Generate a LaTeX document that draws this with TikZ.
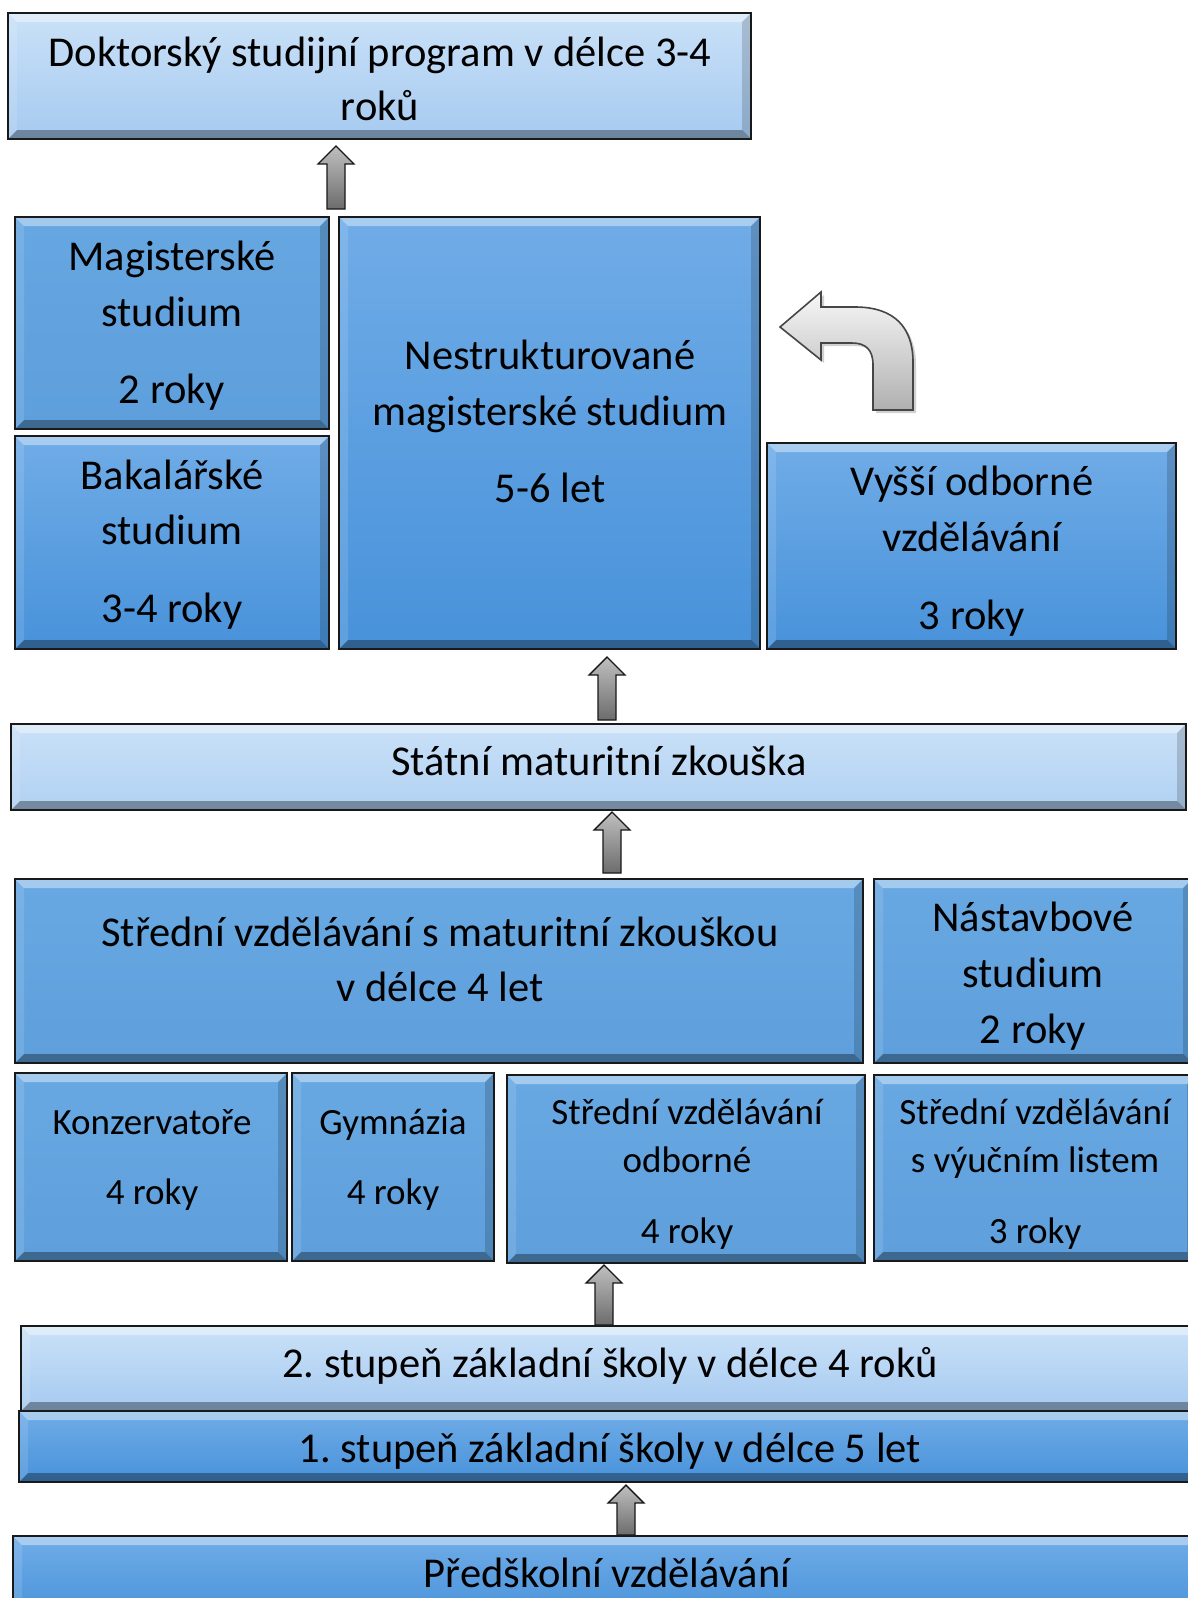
\documentclass[tikz,border=0pt]{standalone}
\usepackage{fontspec}
\setmainfont{Carlito}
\usetikzlibrary{calc}
\frenchspacing

\definecolor{paleTop}{RGB}{202,225,248}
\definecolor{paleBot}{RGB}{166,202,240}
\definecolor{blueTop}{RGB}{112,172,231}
\definecolor{blueBot}{RGB}{72,146,218}
\definecolor{flatTop}{RGB}{104,168,226}
\definecolor{flatBot}{RGB}{94,159,220}
\definecolor{frame}{RGB}{25,25,25}

% bevelled box: name, x1, y1, x2, y2, top colour, bottom colour
\newcommand\bevelbox[7]{%
  \node[rectangle, inner sep=0pt, outer sep=0pt, top color=#6, bottom color=#7,
        minimum width={(#4-#2)*1pt}, minimum height={(#5-#3)*1pt}]
        (#1) at ({(#2+#4)/2},{(#3+#5)/2}) {};
  \fill[white, opacity=0.40] (#1.north west) -- (#1.north east)
     -- ([shift={(-9pt,-9pt)}]#1.north east) -- ([shift={(9pt,-9pt)}]#1.north west) -- cycle;
  \fill[black, opacity=0.34] (#1.south west) -- (#1.south east)
     -- ([shift={(-9pt,9pt)}]#1.south east) -- ([shift={(9pt,9pt)}]#1.south west) -- cycle;
  \fill[white, opacity=0.12] (#1.north west) -- ([shift={(9pt,-9pt)}]#1.north west)
     -- ([shift={(9pt,9pt)}]#1.south west) -- (#1.south west) -- cycle;
  \fill[black, opacity=0.16] (#1.north east) -- ([shift={(-9pt,-9pt)}]#1.north east)
     -- ([shift={(-9pt,9pt)}]#1.south east) -- (#1.south east) -- cycle;
  \draw[frame, line width=2.2pt] (#1.north west) rectangle (#1.south east);
}

% straight block arrow from a base point up to a tip point
\newcommand\uparr[2]{%
  \path[blockarrow] let \p1=(#1), \p2=(#2) in
    (\x1-9pt,\y1) -- (\x1-9pt,\y2-18pt) -- (\x1-18pt,\y2-18pt) -- (\x1,\y2)
    -- (\x1+18pt,\y2-18pt) -- (\x1+9pt,\y2-18pt) -- (\x1+9pt,\y1) -- cycle;}

\begin{document}
\begin{tikzpicture}[x=1pt,y=-1pt,
  lbl/.style={font=\fontsize{42.5}{51}\selectfont, inner sep=0pt, anchor=mid, yshift=-11pt},
  slbl/.style={font=\fontsize{37}{44}\selectfont, inner sep=0pt, anchor=mid, yshift=-10pt},
  blockarrow/.style={draw=frame, line width=1.4pt, top color=gray!50, bottom color=gray!85!black, line join=miter}
]
\clip (0,0) rectangle (1188,1598);
\fill[white] (0,0) rectangle (1188,1598);

% ---- boxes ----
\bevelbox{doc}{8}{13}{751}{139}{paleTop}{paleBot}
\bevelbox{mag}{15}{217}{329}{429}{flatTop!95!blueBot}{flatBot!95!blueBot}
\bevelbox{bak}{15}{436}{329}{649}{blueTop}{blueBot}
\bevelbox{nestr}{339}{217}{760}{649}{blueTop}{blueBot}
\bevelbox{vos}{767}{443}{1176}{649}{blueTop}{blueBot}
\bevelbox{stat}{11}{724}{1186}{810}{paleTop}{paleBot!70!paleTop}
\bevelbox{ssm}{15}{879}{863}{1063}{flatTop}{flatBot}
\bevelbox{nast}{874}{879}{1192}{1063}{flatTop}{flatBot}
\bevelbox{konz}{15}{1073}{287}{1261}{flatTop}{flatBot}
\bevelbox{gym}{292}{1073}{494}{1261}{flatTop}{flatBot}
\bevelbox{odb}{507}{1075}{865}{1263}{flatTop}{flatBot}
\bevelbox{vyuc}{874}{1075}{1196}{1261}{flatTop}{flatBot}
\bevelbox{zs2}{21}{1326}{1199}{1411}{paleTop}{paleBot}
\bevelbox{zs1}{19}{1411}{1201}{1482}{blueTop}{blueBot}
\bevelbox{pred}{13}{1536}{1201}{1620}{blueTop}{blueBot}

% ---- texts ----
\node[lbl] (doc-1) at (380,53) {Doktorský studijní program v délce 3-4};
\node[lbl] (doc-2) at (380,107) {roků};
\node[lbl] (mag-1) at (172,257) {Magisterské};
\node[lbl] (mag-2) at (172,313) {studium};
\node[lbl] (mag-3) at (172,390) {2 roky};
\node[lbl] (bak-1) at (172,476) {Bakalářské};
\node[lbl] (bak-2) at (172,531) {studium};
\node[lbl] (bak-3) at (172,609) {3-4 roky};
\node[lbl] (nestr-1) at (550,356) {Nestrukturované};
\node[lbl] (nestr-2) at (550,412) {magisterské studium};
\node[lbl] (nestr-3) at (550,489) {5-6 let};
\node[lbl] (vos-1) at (972,482) {Vyšší odborné};
\node[lbl] (vos-2) at (972,538) {vzdělávání};
\node[lbl] (vos-3) at (972,616) {3 roky};
\node[lbl] (stat-1) at (599,762) {Státní maturitní zkouška};
\node[lbl] (ssm-1) at (440,933) {Střední vzdělávání s maturitní zkouškou};
\node[lbl] (ssm-2) at (440,988) {v délce 4 let};
\node[lbl] (nast-1) at (1033,918) {Nástavbové};
\node[lbl] (nast-2) at (1033,974) {studium};
\node[lbl] (nast-3) at (1033,1030) {2 roky};
\node[slbl] (konz-1) at (152,1122) {Konzervatoře};
\node[slbl] (konz-2) at (152,1192) {4 roky};
\node[slbl] (gym-1) at (393,1122) {Gymnázia};
\node[slbl] (gym-2) at (393,1192) {4 roky};
\node[slbl] (odb-1) at (687,1112) {Střední vzdělávání};
\node[slbl] (odb-2) at (687,1160) {odborné};
\node[slbl] (odb-3) at (687,1231) {4 roky};
\node[slbl] (vyuc-1) at (1035,1112) {Střední vzdělávání};
\node[slbl] (vyuc-2) at (1035,1160) {s výučním listem};
\node[slbl] (vyuc-3) at (1035,1231) {3 roky};
\node[lbl] (zs2-1) at (610,1364) {2. stupeň základní školy v délce 4 roků};
\node[lbl] (zs1-1) at (610,1449) {1. stupeň základní školy v délce 5 let};
\node[lbl] (pred-1) at (607,1574) {Předškolní vzdělávání};

% ---- straight arrows ----
\coordinate (ax1) at (336,0);
\coordinate (ax2) at (607,0);
\coordinate (ax3) at (612,0);
\coordinate (ax4) at (604,0);
\coordinate (ax5) at (626,0);
\uparr{$(ax1 |- nestr.north)+(0,-8)$}{$(ax1 |- doc.south)+(0,7)$}
\uparr{$(ax2 |- stat.north)+(0,-4)$}{$(ax2 |- nestr.south)+(0,8)$}
\uparr{$(ax3 |- ssm.north)+(0,-6)$}{$(ax3 |- stat.south)+(0,2)$}
\uparr{$(ax4 |- zs2.north)+(0,-1)$}{$(ax4 |- odb.south)+(0,2)$}
\uparr{$(ax5 |- pred.north)+(0,-1)$}{$(ax5 |- zs1.south)+(0,3)$}

% ---- bent arrow from the vocational box towards the master's box ----
\fill[black, opacity=0.18, shift={(3pt,-3pt)}]
  (821,307) -- (855,307) .. controls (895,307) and (913,328) .. (913,362)
  -- (913,410) -- (873,410) -- (873,365) .. controls (873,350) and (866,343) .. (852,343)
  -- (821,343) -- (821,360) -- (780,327) -- (821,292) -- cycle;
\path[draw=gray!55!black, line width=1.6pt, line join=miter, top color=gray!6, bottom color=gray!62]
  (821,307) -- (855,307) .. controls (895,307) and (913,328) .. (913,362)
  -- (913,410) -- (873,410) -- (873,365) .. controls (873,350) and (866,343) .. (852,343)
  -- (821,343) -- (821,360) -- (780,327) -- (821,292) -- cycle;
\end{tikzpicture}
\end{document}
